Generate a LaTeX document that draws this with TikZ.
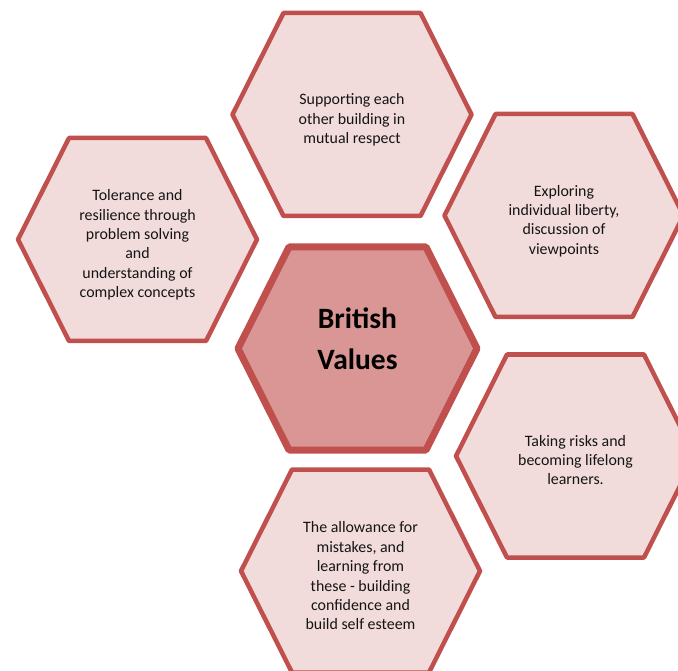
\documentclass[tikz,border=0pt]{standalone}
\usepackage{fontspec}
\setmainfont{Carlito}
\definecolor{hexline}{HTML}{C0504D}
\definecolor{hexfill}{HTML}{F2DCDB}
\definecolor{hexcenter}{HTML}{D99694}
\definecolor{hextext}{HTML}{141414}
\tikzset{
  hexa/.pic={\path[pic actions] (-119.5,0) -- (-68.5,-101.5) -- (68.5,-101.5) -- (119.5,0) -- (68.5,101.5) -- (-68.5,101.5) -- cycle;},
  outerhex/.style={draw=hexline, fill=hexfill, line width=4.5pt, line join=round},
  centerhex/.style={draw=hexline, fill=hexcenter, line width=7pt, line join=round},
  smalltext/.style={align=center, text=hextext, font=\fontsize{15.9}{19.4}\selectfont, inner sep=0pt},
  bigtext/.style={align=center, text=black, font=\fontsize{29.5}{41}\selectfont\bfseries, inner sep=0pt}
}
\begin{document}
\begin{tikzpicture}[x=1pt,y=-1pt]
\useasboundingbox (0,0) rectangle (678,671);
\clip (0,0) rectangle (678,671);
\pic[outerhex] at (137.5,239.5) {hexa};
\pic[outerhex] at (352,114.5) {hexa};
\pic[outerhex] at (564,215.5) {hexa};
\pic[centerhex] at (357.5,348.5) {hexa};
\pic[outerhex] at (575.5,456) {hexa};
\pic[outerhex] at (360.5,571) {hexa};
\node[smalltext] (tol) at (137.5,245) {Tolerance and\\resilience through\\problem solving\\and\\understanding of\\complex concepts};
\node[smalltext] (sup) at (352,120) {Supporting each\\other building in\\mutual respect};
\node[smalltext] (exp) at (564,221) {Exploring\\individual liberty,\\discussion of\\viewpoints};
\node[bigtext] (bv) at (357.5,339) {British\\Values};
\node[smalltext] (risk) at (575.5,460) {Taking risks and\\becoming lifelong\\learners.};
\node[smalltext] (mis) at (360.5,576) {The allowance for\\mistakes, and\\learning from\\these - building\\confidence and\\build self esteem};
\end{tikzpicture}
\end{document}
